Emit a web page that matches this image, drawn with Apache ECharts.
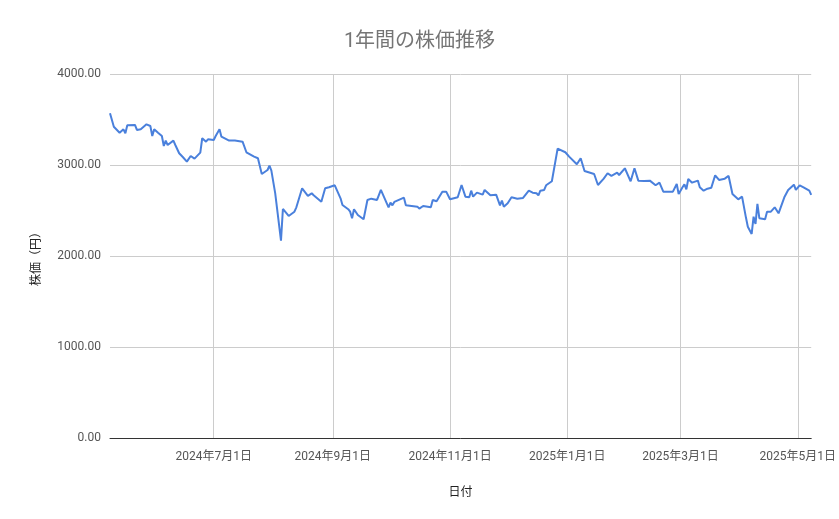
<!DOCTYPE html>
<html>
<head>
<meta charset="utf-8">
<script src="https://cdn.jsdelivr.net/npm/echarts@6/dist/echarts.min.js"></script>
<style>
html,body{margin:0;padding:0;background:#fff;}
#chart{width:839px;height:519px;}
</style>
</head>
<body>
<div id="chart"></div>
<script>
const titleText = '1年間の株価推移';
const xAxisName = '日付';
const yAxisName = '株価（円）';
const xMin = '2024-05-08';
const xMax = '2025-05-08';
const yTicks = [0, 1000, 2000, 3000, 4000];

const dates = [
  '2024-05-08','2024-05-10','2024-05-12','2024-05-13','2024-05-15','2024-05-16','2024-05-17','2024-05-21','2024-05-22','2024-05-24',
  '2024-05-27','2024-05-29','2024-05-30','2024-05-31','2024-06-02','2024-06-04','2024-06-05','2024-06-06','2024-06-07','2024-06-10',
  '2024-06-11','2024-06-13','2024-06-15','2024-06-17','2024-06-19','2024-06-21','2024-06-24','2024-06-25','2024-06-27','2024-06-28',
  '2024-07-01','2024-07-02','2024-07-04','2024-07-05','2024-07-09','2024-07-10','2024-07-12','2024-07-16','2024-07-18','2024-07-22',
  '2024-07-23','2024-07-24','2024-07-26','2024-07-29','2024-07-30','2024-07-31','2024-08-02','2024-08-05','2024-08-06','2024-08-09',
  '2024-08-12','2024-08-13','2024-08-16','2024-08-19','2024-08-21','2024-08-22','2024-08-23','2024-08-26','2024-08-28','2024-08-30',
  '2024-09-02','2024-09-03','2024-09-05','2024-09-06','2024-09-09','2024-09-10','2024-09-11','2024-09-12','2024-09-14','2024-09-17',
  '2024-09-19','2024-09-21','2024-09-24','2024-09-26','2024-09-27','2024-09-30','2024-10-01','2024-10-02','2024-10-03','2024-10-04',
  '2024-10-08','2024-10-09','2024-10-10','2024-10-12','2024-10-15','2024-10-16','2024-10-18','2024-10-22','2024-10-23','2024-10-25',
  '2024-10-28','2024-10-30','2024-11-01','2024-11-02','2024-11-05','2024-11-07','2024-11-09','2024-11-11','2024-11-12','2024-11-13',
  '2024-11-15','2024-11-18','2024-11-19','2024-11-22','2024-11-23','2024-11-25','2024-11-27','2024-11-28','2024-11-29','2024-12-01',
  '2024-12-03','2024-12-06','2024-12-09','2024-12-12','2024-12-14','2024-12-16','2024-12-17','2024-12-18','2024-12-20','2024-12-21',
  '2024-12-24','2024-12-25','2024-12-27','2024-12-28','2024-12-31','2025-01-02','2025-01-06','2025-01-08','2025-01-10','2025-01-15',
  '2025-01-17','2025-01-20','2025-01-22','2025-01-23','2025-01-24','2025-01-27','2025-01-28','2025-01-31','2025-02-03','2025-02-05',
  '2025-02-07','2025-02-10','2025-02-11','2025-02-13','2025-02-16','2025-02-18','2025-02-20','2025-02-25','2025-02-27','2025-02-28',
  '2025-03-02','2025-03-03','2025-03-04','2025-03-05','2025-03-07','2025-03-10','2025-03-11','2025-03-12','2025-03-13','2025-03-15',
  '2025-03-17','2025-03-19','2025-03-21','2025-03-24','2025-03-26','2025-03-28','2025-03-31','2025-04-02','2025-04-04','2025-04-05',
  '2025-04-07','2025-04-08','2025-04-09','2025-04-10','2025-04-11','2025-04-14','2025-04-15','2025-04-17','2025-04-19','2025-04-21',
  '2025-04-22','2025-04-24','2025-04-26','2025-04-29','2025-04-30','2025-05-02','2025-05-04','2025-05-07','2025-05-08'
];

const prices = [
  3568,3421,3377,3355,3392,3348,3436,3440,3385,3392,
  3447,3429,3319,3392,3355,3319,3209,3268,3220,3268,
  3220,3129,3085,3037,3099,3070,3136,3294,3256,3283,
  3275,3319,3392,3311,3268,3283,3268,3256,3140,3092,
  3099,3074,2901,2945,2993,2938,2689,2168,2517,2440,
  2487,2535,2744,2660,2689,2667,2671,2597,2744,2755,
  2777,2770,2634,2561,2514,2487,2415,2514,2451,2404,
  2616,2630,2616,2726,2744,2535,2586,2557,2594,2579,
  2641,2557,2564,2550,2542,2520,2550,2535,2616,2601,
  2707,2707,2623,2623,2645,2780,2652,2645,2718,2652,
  2696,2674,2726,2667,2660,2674,2557,2608,2542,2579,
  2645,2630,2638,2718,2696,2689,2667,2718,2726,2777,
  2821,2836,3180,3180,3140,3092,3008,3074,2934,2901,
  2780,2850,2909,2923,2880,2916,2890,2964,2821,2964,
  2828,2824,2806,2828,2777,2806,2707,2707,2791,2682,
  2755,2788,2733,2846,2806,2828,2755,2747,2718,2740,
  2751,2887,2836,2850,2880,2682,2623,2652,2425,2322,
  2242,2432,2352,2572,2415,2404,2487,2487,2535,2469,
  2451,2645,2726,2784,2726,2777,2755,2718,2671
];

const seriesData = dates.map((d, i) => [d, prices[i]]);
const DAY = 24 * 3600 * 1000;
const fontFam = 'Roboto, "Noto Sans CJK JP", sans-serif';

const chart = echarts.init(document.getElementById('chart'), null, {renderer: 'canvas'});
chart.setOption({
  animation: false,
  backgroundColor: '#ffffff',
  textStyle: {fontFamily: fontFam},
  title: {
    text: titleText,
    left: 'center',
    top: 27,
    textStyle: {fontSize: 20, fontWeight: 'normal', color: '#757575', fontFamily: fontFam}
  },
  grid: {left: 110, right: 26, top: 74, bottom: 81, containLabel: false},
  xAxis: {
    type: 'time',
    min: xMin,
    max: xMax,
    minInterval: 61 * DAY,
    maxInterval: 62 * DAY,
    name: xAxisName,
    nameLocation: 'middle',
    nameGap: 49,
    nameTextStyle: {fontSize: 12, color: '#222222', fontFamily: fontFam},
    axisLine: {show: true, lineStyle: {color: '#333333', width: 1}},
    axisTick: {show: false},
    axisLabel: {
      formatter: '{yyyy}年{M}月{d}日',
      color: '#555555',
      fontSize: 12,
      margin: 13,
      showMinLabel: false,
      showMaxLabel: false,
      hideOverlap: false,
      fontFamily: fontFam
    },
    splitLine: {show: true, showMinLine: false, showMaxLine: false, lineStyle: {color: '#cccccc', width: 1}}
  },
  yAxis: {
    type: 'value',
    min: yTicks[0],
    max: yTicks[yTicks.length - 1],
    interval: 1000,
    name: yAxisName,
    nameLocation: 'middle',
    nameGap: 67,
    nameTextStyle: {fontSize: 12, color: '#222222', fontFamily: fontFam},
    axisLine: {show: false},
    axisTick: {show: false},
    axisLabel: {
      formatter: v => v.toFixed(2),
      color: '#555555',
      fontSize: 12,
      margin: 9,
      fontFamily: fontFam
    },
    splitLine: {show: true, lineStyle: {color: '#cccccc', width: 1}}
  },
  series: [{
    type: 'line',
    data: seriesData,
    showSymbol: false,
    symbol: 'none',
    lineStyle: {color: '#4a80dc', width: 2},
    itemStyle: {color: '#4a80dc'},
    z: 3
  }]
});
</script>
</body>
</html>
